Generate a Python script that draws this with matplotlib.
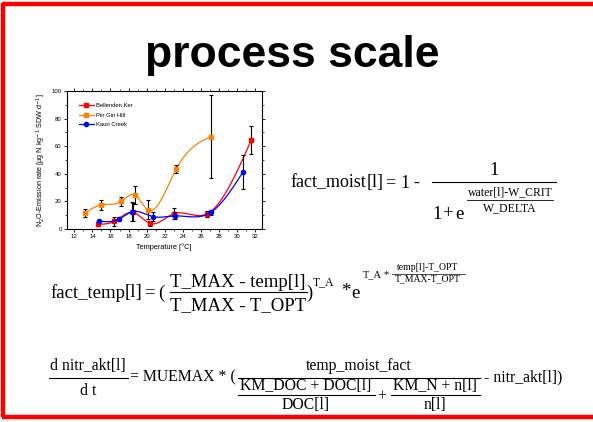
import numpy as np
import matplotlib
matplotlib.use("Agg")
import matplotlib.pyplot as plt
from matplotlib.lines import Line2D

plt.rcParams['font.family'] = ['Liberation Sans', 'DejaVu Sans']

# Daten
bk_temp = [14.6, 16.4, 18.5, 20.4, 23.0, 26.7, 31.6]
bk_rate = [3.5, 5.5, 12.0, 4.0, 11.0, 11.0, 64.5]
bk_err = [1.5, 3.0, 6.5, 2.0, 4.0, 2.0, 10.0]

pg_temp = [13.2, 14.9, 17.2, 18.7, 20.1, 23.3, 27.1]
pg_rate = [11.6, 17.4, 20.0, 24.7, 14.0, 43.7, 67.0]
pg_err = [3.0, 3.5, 3.0, 6.5, 7.0, 3.0, 30.0]

kc_temp = [14.7, 16.9, 18.4, 20.7, 23.1, 27.1, 30.7]
kc_rate = [5.8, 7.0, 12.5, 9.0, 9.5, 12.0, 41.5]
kc_err = [1.0, 1.5, 7.0, 3.0, 2.5, 1.5, 12.5]

serien = [
    ('Bellenden Ker', bk_temp, bk_rate, bk_err, '#ff0000', 's'),
    ('Pin Gin Hill', pg_temp, pg_rate, pg_err, '#ff8000', 's'),
    ('Kauri Creek', kc_temp, kc_rate, kc_err, '#0000ff', 'o'),
]


def spline(x, y, n=200):
    # natuerlicher kubischer Spline fuer die Verbindungslinie
    x = np.asarray(x, float)
    y = np.asarray(y, float)
    k = len(x)
    h = np.diff(x)
    A = np.zeros((k, k))
    b = np.zeros(k)
    A[0, 0] = A[-1, -1] = 1
    for i in range(1, k - 1):
        A[i, i - 1] = h[i - 1]
        A[i, i] = 2 * (h[i - 1] + h[i])
        A[i, i + 1] = h[i]
        b[i] = 6 * ((y[i + 1] - y[i]) / h[i] - (y[i] - y[i - 1]) / h[i - 1])
    M = np.linalg.solve(A, b)
    xs = np.linspace(x[0], x[-1], n)
    idx = np.clip(np.searchsorted(x, xs) - 1, 0, k - 2)
    x0, x1 = x[idx], x[idx + 1]
    hh = x1 - x0
    ys = (M[idx] * (x1 - xs) ** 3 / (6 * hh) + M[idx + 1] * (xs - x0) ** 3 / (6 * hh)
          + (y[idx] / hh - M[idx] * hh / 6) * (x1 - xs)
          + (y[idx + 1] / hh - M[idx + 1] * hh / 6) * (xs - x0))
    return xs, ys


W, H = 593, 422
fig = plt.figure(figsize=(W / 100, H / 100), dpi=100)


def txt(x, y, s, size, ha='left', va='baseline'):
    # Text in Pixelkoordinaten (von oben gemessen)
    fig.text(x / W, 1 - y / H, s, fontsize=size, ha=ha, va=va, family='Liberation Serif')


def bruch(x0, x1, y, lw=0.8):
    fig.add_artist(Line2D([x0 / W, x1 / W], [1 - y / H, 1 - y / H], color='black', lw=lw))


# roter Rahmen
rot = dict(color='#ff0000', lw=3.2, solid_capstyle='butt')
fig.add_artist(Line2D([0.004, 1.0], [0.9905, 0.9905], **rot))
fig.add_artist(Line2D([0.0055, 0.0055], [0.012, 0.993], **rot))
fig.add_artist(Line2D([0.004, 1.0], [0.0125, 0.0125], **rot))

fig.text(292.5 / W, 0.868, 'process scale', fontsize=32, fontweight='bold',
         ha='center', va='center')

ax = fig.add_axes([0.1125, 0.4573, 0.3288, 0.327])
for name, t, r, e, c, m in serien:
    xs, ys = spline(t, r)
    ax.plot(xs, ys, color=c, lw=0.9)
    ax.errorbar(t, r, yerr=e, fmt='none', ecolor='black', elinewidth=0.8,
                capsize=1.5, capthick=0.8)
    ax.plot(t, r, m, color=c, ms=3, mec=c)
    ax.plot([], [], color=c, lw=0.9, marker=m, ms=3, label=name)

ax.set_xlim(11.15, 32.75)
ax.set_ylim(0, 100)
ax.set_xticks(range(12, 33, 2))
ax.set_xticks(range(12, 33), minor=True)
ax.set_yticks(range(0, 101, 20))
ax.set_yticks(range(0, 101, 10), minor=True)
ax.tick_params(labelsize=4.3, length=2, width=0.6, pad=1.5)
ax.tick_params(which='minor', length=1.2, width=0.5)
ax.tick_params(which='both', top=True, right=True, labeltop=False, labelright=False)
for s in ax.spines.values():
    s.set_linewidth(0.8)
ax.set_xlabel('Temperature [°C]', fontsize=5.3, labelpad=3)
ax.set_ylabel('N$_2$O-Emission rate [µg N kg$^{-1}$ SDW d$^{-1}$]', fontsize=5.2, labelpad=2.5)
ax.legend(loc='upper left', bbox_to_anchor=(0.035, 0.95), frameon=False, fontsize=4.2,
          handlelength=2.6, handletextpad=0.3, labelspacing=0.75)

# Gleichung 1: fact_moist
g = 13.5
txt(290, 187.5, 'fact_moist', 13)
txt(367, 187.5, '[l]', 13)
txt(385, 187.5, '=', 13)
txt(400, 187.5, '1', 13)
txt(413, 187.5, '-', 13)
txt(494, 175, '1', g, ha='center')
bruch(432, 556, 182.5)
txt(432, 218.5, '1', g)
txt(443, 218.5, '+', g)
txt(455, 218.5, 'e', g)
txt(510, 195.5, 'water[l]-W_CRIT', 8.5, ha='center')
bruch(467, 553, 199.5, lw=0.6)
txt(510, 211, 'W_DELTA', 8.5, ha='center')

# Gleichung 2: fact_temp
txt(50, 297.5, 'fact_temp', g)
txt(125, 297.5, '[l]', g)
txt(144, 297.5, '=', g)
txt(158, 297.5, '(', g)
txt(238, 287, 'T_MAX - temp[l]', g, ha='center')
bruch(170, 307, 291.5)
txt(238, 310, 'T_MAX - T_OPT', g, ha='center')
txt(306, 297.5, ')', g)
txt(313, 285.5, 'T_A', 8.5)
txt(341, 292, '*', g, va='center')
txt(351, 297.5, 'e', g)
txt(363, 277.5, 'T_A', 7.5)
txt(384, 274.5, '*', 7.5, va='center')
txt(428, 270.5, 'temp[l]-T_OPT', 7, ha='center')
bruch(392, 465, 273.5, lw=0.5)
txt(428, 281.5, 'T_MAX-T_OPT', 7, ha='center')

# Gleichung 3: nitr_akt
k = 11.3
txt(88, 369.5, 'd nitr_akt[l]', k, ha='center')
bruch(49, 128, 377.5)
txt(88, 395, 'd t', k, ha='center')
txt(130, 381.5, '= MUEMAX * (', k)
txt(359, 370.5, 'temp_moist_fact', k, ha='center')
bruch(238, 480, 377.5)
txt(306, 390, 'KM_DOC + DOC[l]', k, ha='center')
bruch(238, 375, 395)
txt(306, 409, 'DOC[l]', k, ha='center')
txt(382, 401, '+', k, ha='center')
txt(435, 390, 'KM_N + n[l]', k, ha='center')
bruch(391, 480, 395)
txt(435, 409, 'n[l]', k, ha='center')
txt(484, 381.5, '- nitr_akt[l])', k)

fig.savefig('out.png', dpi=100)
